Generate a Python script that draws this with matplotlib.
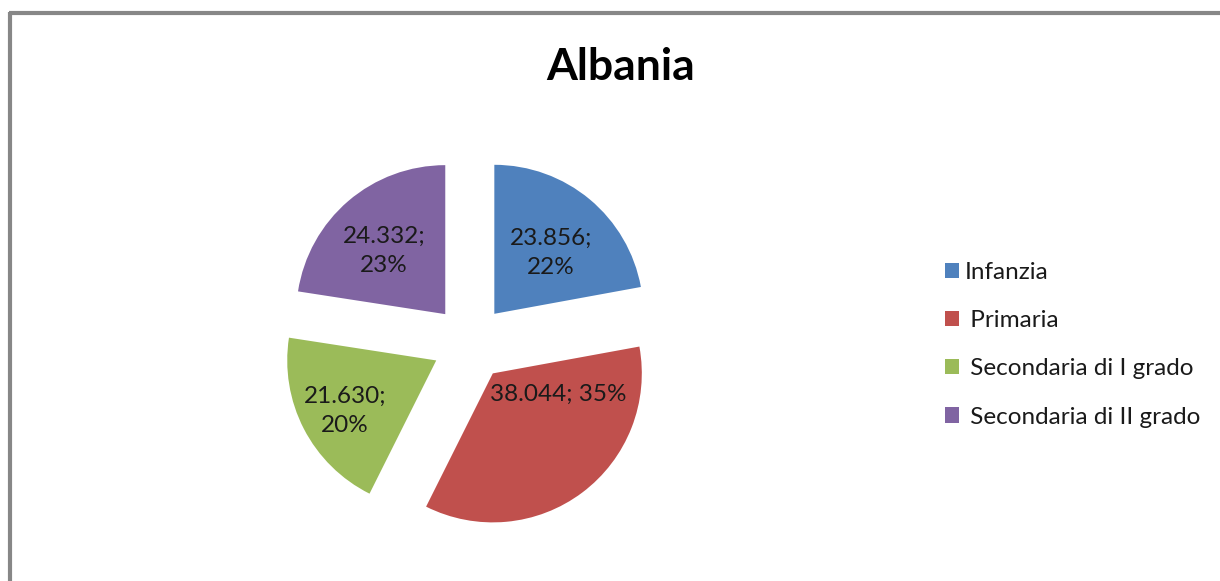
import matplotlib
matplotlib.use("Agg")
import matplotlib.pyplot as plt
import numpy as np

categories = ["Infanzia", "Primaria", "Secondaria di I grado", "Secondaria di II grado"]
values = [23856, 38044, 21630, 24332]
value_labels = ["23.856", "38.044", "21.630", "24.332"]
title = "Albania"

colors = ["#4F81BD", "#C0504D", "#9BBB59", "#8064A2"]
FONT = ["Lato", "DejaVu Sans"]

W, H = 1220, 581
fig = plt.figure(figsize=(W / 100, H / 100), dpi=100)
fig.patch.set_facecolor("white")
ax = fig.add_axes([0, 0, 1, 1])

cx, cy, R = 470, H - 343, 149
wedges, _ = ax.pie(values, colors=colors, startangle=90, counterclock=False,
                   radius=R, center=(cx, cy), explode=[38] * 4,
                   wedgeprops=dict(linewidth=0))
ax.set_xlim(0, W)
ax.set_ylim(0, H)
ax.set_aspect("equal")
ax.axis("off")

total = sum(values)
# label placement: (fraction of radius, angle in degrees) from each wedge's apex
label_pos = [(0.56, 47), (0.46, -17.6), (0.70, 209), (0.59, 134)]
multiline = [True, False, True, True]
for w, v, lab, (f, a), ml in zip(wedges, values, value_labels, label_pos, multiline):
    pct = round(100 * v / total)
    txt = f"{lab};\n{pct}%" if ml else f"{lab}; {pct}%"
    x0, y0 = w.center
    x = x0 + f * R * np.cos(np.radians(a))
    y = y0 + f * R * np.sin(np.radians(a))
    ax.text(x, y, txt, ha="center", va="center", fontsize=17.5, family=FONT,
            color="#1a1a1a", linespacing=1.5)

fig.text(621 / W, 1 - 80 / H, title, ha="center", va="baseline", fontsize=32,
         fontweight="bold", family=FONT, color="black")

leg_labels = [categories[0]] + [" " + c for c in categories[1:]]
leg = ax.legend(wedges, leg_labels, loc="upper left",
                bbox_to_anchor=(923 / W, 1 - 240 / H), frameon=False,
                prop=dict(family=FONT, size=17.5), labelspacing=1.12,
                handlelength=0.6, handleheight=0.6, handletextpad=0.2,
                labelcolor="#1a1a1a")

# chart border (top and left visible)
ax.plot([10, 10], [0, H - 12], color="#878787", lw=3, solid_capstyle="butt")
ax.plot([8.5, W], [H - 13, H - 13], color="#878787", lw=3, solid_capstyle="butt")

fig.savefig("out.png", dpi=100, facecolor="white")
